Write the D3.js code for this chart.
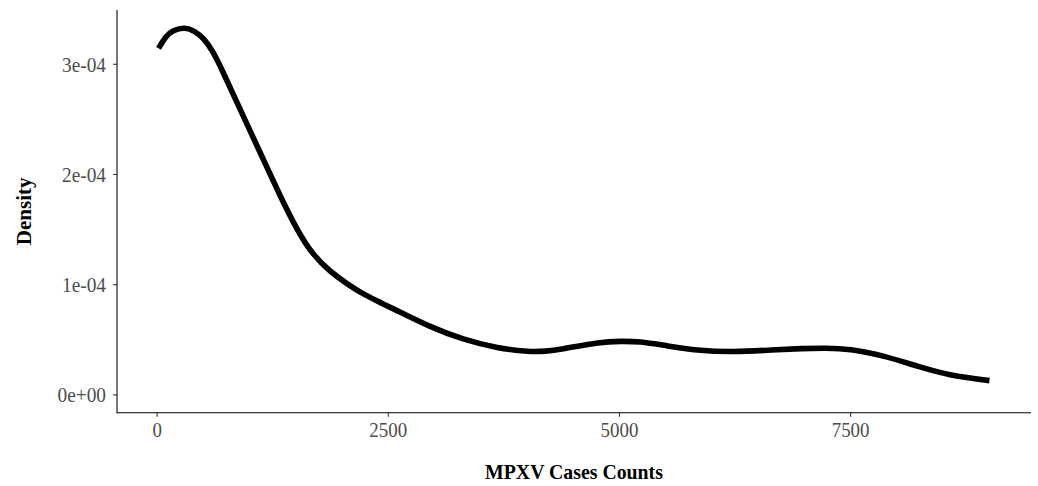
<!DOCTYPE html>
<html>
<head>
<meta charset="utf-8">
<script src="https://cdn.jsdelivr.net/npm/d3@7"></script>
<style>
  html, body { margin: 0; padding: 0; background: #ffffff; }
  svg { display: block; }
  text { font-family: "Liberation Serif", "DejaVu Serif", serif; }
</style>
</head>
<body>
<svg id="chart" width="1038" height="486"></svg>
<script>
// Kernel density estimate of MPXV case counts (x = cases, y = density)
const caseCounts = [21, 96, 183, 302, 411, 508, 606, 715, 899, 1137, 1333, 1517, 1690, 1874,
  2059, 2232, 2416, 2600, 2958, 3316, 3684, 4009, 4205, 4400, 4769, 5018, 5235, 5527, 5885,
  6243, 6611, 6969, 7240, 7511, 7869, 8237, 8595, 9007];
const densityValues = [3.140e-4, 3.239e-4, 3.299e-4, 3.322e-4, 3.292e-4, 3.225e-4, 3.110e-4,
  2.930e-4, 2.595e-4, 2.163e-4, 1.810e-4, 1.505e-4, 1.280e-4, 1.122e-4, 1.005e-4, 0.914e-4,
  0.835e-4, 0.760e-4, 0.617e-4, 0.504e-4, 0.426e-4, 0.392e-4, 0.393e-4, 0.414e-4, 0.467e-4,
  0.481e-4, 0.475e-4, 0.440e-4, 0.400e-4, 0.389e-4, 0.401e-4, 0.415e-4, 0.419e-4, 0.405e-4,
  0.345e-4, 0.254e-4, 0.176e-4, 0.125e-4];
const xTicks = [0, 2500, 5000, 7500];
const yTicks = [0, 1e-4, 2e-4, 3e-4];
const yTickLabels = ["0e+00", "1e-04", "2e-04", "3e-04"];
const xTitle = "MPXV Cases Counts";
const yTitle = "Density";

const points = caseCounts.map((c, i) => ({ x: c, y: densityValues[i] }));

const panel = { left: 117, right: 1031, top: 10, bottom: 412.7 };

// 5% padding on each side of the data range
function expand(ext, f = 0.05) {
  const d = (ext[1] - ext[0]) * f;
  return [ext[0] - d, ext[1] + d];
}

const x = d3.scaleLinear()
  .domain(expand(d3.extent(caseCounts)))
  .range([panel.left, panel.right]);
const y = d3.scaleLinear()
  .domain(expand([0, d3.max(densityValues)]))
  .range([panel.bottom, panel.top]);

const svg = d3.select("#chart");

// Narrow the serif glyphs slightly
function squeeze(sel, f) {
  sel.each(function () {
    const w = this.getComputedTextLength();
    d3.select(this).attr("textLength", w * f).attr("lengthAdjust", "spacingAndGlyphs");
  });
}

// Density curve
const line = d3.line()
  .x(d => x(d.x))
  .y(d => y(d.y))
  .curve(d3.curveNatural);

svg.append("path")
  .datum(points)
  .attr("d", line)
  .attr("fill", "none")
  .attr("stroke", "#000")
  .attr("stroke-width", 5.6)
  .attr("stroke-linecap", "butt")
  .attr("stroke-linejoin", "round");

// Bottom axis
const xAxis = svg.append("g")
  .attr("transform", `translate(0,${panel.bottom})`)
  .call(d3.axisBottom(x).tickValues(xTicks).tickFormat(d3.format("d")).tickSize(4).tickSizeOuter(0).tickPadding(5));
xAxis.select(".domain").remove();
xAxis.selectAll(".tick line").attr("stroke", "#333").attr("stroke-width", 1.07);
xAxis.selectAll(".tick text")
  .attr("fill", "#4d4d4d")
  .attr("font-size", 21.5)
  .attr("dy", "0.71em")
  .call(squeeze, 0.88);

// Left axis
const yAxis = svg.append("g")
  .attr("transform", `translate(${panel.left},0)`)
  .call(d3.axisLeft(y).tickValues(yTicks).tickFormat((d, i) => yTickLabels[i]).tickSize(4).tickSizeOuter(0).tickPadding(7));
yAxis.select(".domain").remove();
yAxis.selectAll(".tick line").attr("stroke", "#333").attr("stroke-width", 1.07);
yAxis.selectAll(".tick text")
  .attr("fill", "#4d4d4d")
  .attr("font-size", 21.5)
  .attr("dy", "0.34em")
  .call(squeeze, 0.9);

// Axis lines (L-shaped frame)
svg.append("line")
  .attr("x1", panel.left).attr("x2", panel.right)
  .attr("y1", panel.bottom).attr("y2", panel.bottom)
  .attr("stroke", "#000").attr("stroke-width", 1.07);
svg.append("line")
  .attr("x1", panel.left).attr("x2", panel.left)
  .attr("y1", panel.top).attr("y2", panel.bottom + 0.5)
  .attr("stroke", "#000").attr("stroke-width", 1.07);

// Axis titles
svg.append("text")
  .attr("x", (panel.left + panel.right) / 2)
  .attr("y", 479)
  .attr("text-anchor", "middle")
  .attr("font-size", 22)
  .attr("font-weight", "bold")
  .attr("fill", "#000")
  .text(xTitle)
  .call(squeeze, 0.9);

svg.append("text")
  .attr("transform", `translate(31,${(panel.top + panel.bottom) / 2}) rotate(-90)`)
  .attr("text-anchor", "middle")
  .attr("font-size", 21)
  .attr("font-weight", "bold")
  .attr("fill", "#000")
  .text(yTitle);
</script>
</body>
</html>
